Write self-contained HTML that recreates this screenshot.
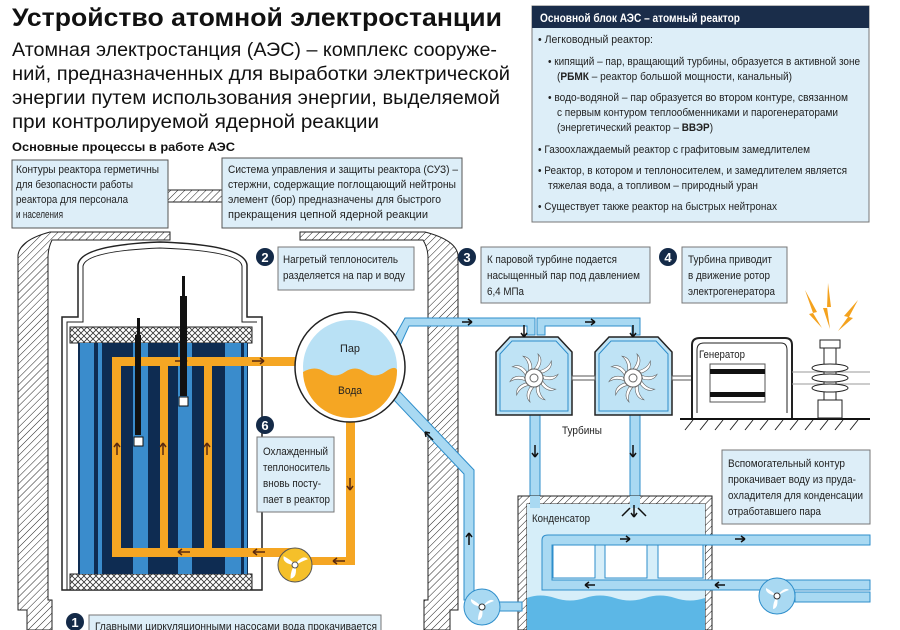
<!DOCTYPE html>
<html><head><meta charset="utf-8"><style>
html,body{margin:0;padding:0;background:#fff}
svg{display:block}
text{font-family:"Liberation Sans","Noto Sans CJK SC",sans-serif}
</style></head><body>
<svg width="900" height="630" viewBox="0 0 900 630" xmlns="http://www.w3.org/2000/svg">
<defs>
<pattern id="h" width="5" height="5" patternUnits="userSpaceOnUse" patternTransform="rotate(45)"><rect width="5" height="5" fill="#fff"/><line x1="0" y1="0" x2="0" y2="5" stroke="#222" stroke-width="1"/></pattern>
<pattern id="x" width="6" height="6" patternUnits="userSpaceOnUse"><rect width="6" height="6" fill="#fff"/><path d="M0 0L6 6M6 0L0 6" stroke="#333" stroke-width="0.8"/></pattern>
<path id="bl" d="M0 -9Q6 -16 4 -24Q10 -18 4 -9Z" fill="#fff" stroke="#666" stroke-width="0.6"/>
<g id="fan"><use href="#bl"/><use href="#bl" transform="rotate(36)"/><use href="#bl" transform="rotate(72)"/><use href="#bl" transform="rotate(108)"/><use href="#bl" transform="rotate(144)"/><use href="#bl" transform="rotate(180)"/><use href="#bl" transform="rotate(216)"/><use href="#bl" transform="rotate(252)"/><use href="#bl" transform="rotate(288)"/><use href="#bl" transform="rotate(324)"/><circle r="9" fill="#fff" stroke="#666"/><circle r="4" fill="#fff" stroke="#666"/></g>
</defs>

<!-- Title -->
<text x="12" y="26" font-size="25" font-weight="bold" fill="#111" textLength="490" lengthAdjust="spacingAndGlyphs">Устройство атомной электростанции</text>
<g font-size="19.5" fill="#111">
<text x="12" y="56" textLength="485" lengthAdjust="spacingAndGlyphs">Атомная электростанция (АЭС) – комплекс сооруже-</text>
<text x="12" y="80" textLength="498" lengthAdjust="spacingAndGlyphs">ний, предназначенных для выработки электрической</text>
<text x="12" y="104" textLength="488" lengthAdjust="spacingAndGlyphs">энергии путем использования энергии, выделяемой</text>
<text x="12" y="128" textLength="367" lengthAdjust="spacingAndGlyphs">при контролируемой ядерной реакции</text>
</g>
<text x="12" y="151" font-size="12" font-weight="bold" fill="#111" textLength="223" lengthAdjust="spacingAndGlyphs">Основные процессы в работе АЭС</text>

<!-- containment outer walls -->
<path d="M27 630V610H18V255Q20 240 50 232H170V240H52Q48 248 48 258V600H52V630Z" fill="url(#h)" stroke="#222"/>
<path d="M450 630V610H458V255Q456 240 425 232H300V240H423Q428 248 428 258V600H424V630Z" fill="url(#h)" stroke="#222"/>
<rect x="166" y="190" width="60" height="12" fill="url(#h)" stroke="#222"/>

<!-- Box 1 -->
<rect x="12" y="160" width="156" height="68" fill="#ddeef8" stroke="#555"/>
<g font-size="11" fill="#222" lengthAdjust="spacingAndGlyphs">
<text x="16" y="173" textLength="143" lengthAdjust="spacingAndGlyphs">Контуры реактора герметичны</text>
<text x="16" y="188" textLength="117" lengthAdjust="spacingAndGlyphs">для безопасности работы</text>
<text x="16" y="203" textLength="112" lengthAdjust="spacingAndGlyphs">реактора для персонала</text>
<text x="16" y="218" textLength="47" lengthAdjust="spacingAndGlyphs">и населения</text>
</g>
<!-- Box 2 -->
<rect x="222" y="158" width="240" height="70" fill="#ddeef8" stroke="#555"/>
<g font-size="11" fill="#222">
<text x="228" y="173" textLength="230" lengthAdjust="spacingAndGlyphs">Система управления и защиты реактора (СУЗ) –</text>
<text x="228" y="188" textLength="228" lengthAdjust="spacingAndGlyphs">стержни, содержащие поглощающий нейтроны</text>
<text x="228" y="203" textLength="213" lengthAdjust="spacingAndGlyphs">элемент (бор) предназначены для быстрого</text>
<text x="228" y="218" textLength="200" lengthAdjust="spacingAndGlyphs">прекращения цепной ядерной реакции</text>
</g>

<!-- right panel -->
<rect x="532" y="6" width="337" height="216" fill="#ddeef8" stroke="#777"/>
<rect x="532" y="6" width="337" height="22" fill="#1a2d4a"/>
<text x="540" y="22" font-size="11.5" font-weight="bold" fill="#fff" textLength="200" lengthAdjust="spacingAndGlyphs">Основной блок АЭС – атомный реактор</text>
<g font-size="11" fill="#222">
<text x="538" y="43" textLength="115" lengthAdjust="spacingAndGlyphs">• Легководный реактор:</text>
<text x="548" y="65" textLength="312" lengthAdjust="spacingAndGlyphs">• кипящий – пар, вращающий турбины, образуется в активной зоне</text>
<text x="557" y="80" textLength="235" lengthAdjust="spacingAndGlyphs">(<tspan font-weight="bold">РБМК</tspan> – реактор большой мощности, канальный)</text>
<text x="548" y="101" textLength="300" lengthAdjust="spacingAndGlyphs">• водо-водяной – пар образуется во втором контуре, связанном</text>
<text x="557" y="116" textLength="281" lengthAdjust="spacingAndGlyphs">с первым контуром теплообменниками и парогенераторами</text>
<text x="557" y="131" textLength="156" lengthAdjust="spacingAndGlyphs">(энергетический реактор – <tspan font-weight="bold">ВВЭР</tspan>)</text>
<text x="538" y="153" textLength="272" lengthAdjust="spacingAndGlyphs">• Газоохлаждаемый реактор с графитовым замедлителем</text>
<text x="538" y="174" textLength="309" lengthAdjust="spacingAndGlyphs">• Реактор, в котором и теплоносителем, и замедлителем является</text>
<text x="548" y="189" textLength="210" lengthAdjust="spacingAndGlyphs">тяжелая вода, а топливом – природный уран</text>
<text x="538" y="210" textLength="239" lengthAdjust="spacingAndGlyphs">• Существует также реактор на быстрых нейтронах</text>
</g>

<!-- reactor vessel -->
<path d="M62 590V317H78V265Q80 245 160 242Q245 245 247 265V317H262V590Z" fill="#fff" stroke="#222" stroke-width="1.5"/>
<path d="M67 590V322H83V266Q86 251 160 248Q240 251 242 266V322H257" fill="none" stroke="#222" stroke-width="1"/>
<rect x="70" y="327" width="182" height="16" fill="url(#x)" stroke="#222"/>
<rect x="70" y="574" width="182" height="16" fill="url(#x)" stroke="#222"/>
<rect x="78" y="343" width="170" height="231" fill="#0e2c52"/>
<g fill="#3a8ccc">
<rect x="80" y="343" width="14" height="231"/><rect x="98" y="343" width="4" height="231"/>
<rect x="133" y="343" width="15" height="231"/><rect x="178" y="343" width="14" height="231"/>
<rect x="225" y="343" width="16" height="231"/><rect x="244" y="343" width="3" height="231"/>
</g>
<!-- orange loop -->
<g fill="#f5a623">
<rect x="112" y="357" width="190" height="9"/>
<rect x="112" y="357" width="9" height="200"/>
<rect x="160" y="357" width="8" height="200"/>
<rect x="204" y="357" width="8" height="200"/>
<rect x="112" y="548" width="180" height="9"/>
<rect x="346" y="420" width="9" height="145"/>
<rect x="300" y="557" width="55" height="8"/>
</g>
<g fill="none" stroke="#5a2a10" stroke-width="1.5">
<path d="M252 361h12m0 0l-4-3m4 3l-4 3"/>
<path d="M175 361h12m0 0l-4-3m4 3l-4 3"/>
<path d="M117 455v-12m0 0l-3 4m3-4l3 4"/>
<path d="M163 455v-12m0 0l-3 4m3-4l3 4"/>
<path d="M207 455v-12m0 0l-3 4m3-4l3 4"/>
<path d="M350 478v12m0 0l-3-4m3 4l3-4"/>
<path d="M190 552h-12m0 0l4-3m-4 3l4 3"/>
<path d="M265 552h-12m0 0l4-3m-4 3l4 3"/>
<path d="M345 561h-12m0 0l4-3m-4 3l4 3"/>
</g>
<!-- rods -->
<rect x="137" y="318" width="3" height="30" fill="#111"/><rect x="135" y="335" width="6" height="100" fill="#111"/><rect x="134" y="437" width="9" height="9" fill="#fff" stroke="#111"/>
<rect x="182" y="276" width="3" height="45" fill="#111"/><rect x="180" y="296" width="7" height="100" fill="#111"/><rect x="179" y="397" width="9" height="9" fill="#fff" stroke="#111"/>
<!-- orange pump -->
<circle cx="295" cy="565" r="17" fill="#f5c02a" stroke="#555"/>
<path d="M295 565q8-10 12-6q-6 2-12 6M295 565q2 12-4 13q0-7 4-13M295 565q-12-2-11-8q6 3 11 8" fill="#fff" stroke="#fff"/>
<circle cx="295" cy="565" r="3" fill="#fff" stroke="#555"/>

<!-- steam/feed pipes -->
<g fill="#a9d9f2" stroke="#2e8ecb" stroke-width="1">
<path d="M390 345L405 318H535V335H527V326H409L398 350Z"/>
<path d="M537 335V318H640V335H632V326H545V335Z"/>
<path d="M392 398L400 392L474 470V600H464V474Z"/>
<rect x="530" y="415" width="10" height="85"/>
<rect x="630" y="415" width="10" height="85"/>
</g>
<!-- drum -->
<circle cx="350" cy="367" r="55" fill="#fff" stroke="#222" stroke-width="1.5"/>
<circle cx="350" cy="367" r="47" fill="#b9e1f5"/>
<path d="M303 372Q315 365 325 372T345 372T365 372T385 372T397 370A47 47 0 0 1 303 372Z" fill="#f5a623"/>
<text x="340" y="352" font-size="11" fill="#222" textLength="20" lengthAdjust="spacingAndGlyphs">Пар</text>
<text x="338" y="394" font-size="11" fill="#222" textLength="24" lengthAdjust="spacingAndGlyphs">Вода</text>

<!-- turbines -->
<g fill="#bfe3f5" stroke="#222" stroke-width="1.5">
<path d="M496 415V352L510 337H558L572 352V415Z"/>
<path d="M595 415V352L609 337H658L672 352V415Z"/>
</g>
<g fill="none" stroke="#2e8ecb" stroke-width="1"><path d="M500 411V354L512 341H556L568 354V411Z"/><path d="M599 411V354L611 341H656L668 354V411Z"/></g>
<rect x="572" y="376" width="23" height="4" fill="#fff" stroke="#555"/>
<rect x="672" y="376" width="20" height="4" fill="#fff" stroke="#555"/>
<use href="#fan" transform="translate(534,378)"/>
<use href="#fan" transform="translate(633,378)"/>
<text x="562" y="434" font-size="11" fill="#222" textLength="40" lengthAdjust="spacingAndGlyphs">Турбины</text>
<g stroke="#111" stroke-width="1.5" fill="none">
<path d="M462 322h10m0 0l-4-3m4 3l-4 3"/>
<path d="M585 322h10m0 0l-4-3m4 3l-4 3"/>
<path d="M524 325v12m0 0l-3-4m3 4l3-4"/>
<path d="M633 325v12m0 0l-3-4m3 4l3-4"/>
<path d="M535 445v12m0 0l-3-4m3 4l3-4"/>
<path d="M633 445v12m0 0l-3-4m3 4l3-4"/>
<path d="M469 545v-12m0 0l-3 4m3-4l3 4"/>
<path d="M433 440l-8-8m0 0l1 5m-1-5l5 1"/>
</g>

<!-- generator -->
<path d="M692 418V345Q692 338 700 338H785Q792 338 792 345V418" fill="#fff" stroke="#222" stroke-width="2"/>
<path d="M697 413V350Q697 343 704 343H781Q787 343 787 350V413" fill="none" stroke="#222"/>
<text x="699" y="358" font-size="11" fill="#222" textLength="46" lengthAdjust="spacingAndGlyphs">Генератор</text>
<rect x="710" y="364" width="55" height="38" fill="#fff" stroke="#555"/>
<rect x="710" y="369" width="55" height="5" fill="#111"/><rect x="710" y="392" width="55" height="5" fill="#111"/>
<line x1="680" y1="419" x2="870" y2="419" stroke="#111" stroke-width="2"/>
<g stroke="#222"><path d="M685 430l8-10M700 430l8-10M715 430l8-10M730 430l8-10M745 430l8-10M760 430l8-10M775 430l8-10M790 430l8-10M805 430l8-10M820 430l8-10M835 430l8-10M850 430l8-10"/></g>
<g stroke="#999" stroke-width="1"><path d="M792 372H870M792 384H870"/></g>
<!-- insulator -->
<g fill="#fff" stroke="#222">
<rect x="818" y="400" width="24" height="18"/>
<rect x="824" y="345" width="12" height="55"/>
<ellipse cx="830" cy="368" rx="18" ry="4"/><ellipse cx="830" cy="378" rx="18" ry="4"/><ellipse cx="830" cy="388" rx="18" ry="4"/>
<rect x="820" y="340" width="20" height="8"/>
</g>
<g fill="#f4a21e"><path d="M805 290l12 22-4 1 9 15-13-14 4-1Z"/><path d="M828 283l3 24-4 0 3 22-7-21h4Z"/><path d="M858 300l-14 16 4 1-10 14 15-13-4-1Z"/></g>

<!-- condenser -->
<path d="M518 630V496H712V630H705V504H527V630Z" fill="url(#h)" stroke="#222"/>
<rect x="527" y="504" width="178" height="126" fill="#d6eef9"/>
<path d="M527 598Q540 593 555 598T585 598T615 598T645 598T675 598T705 598V630H527Z" fill="#5cb7e6"/>
<rect x="530" y="496" width="10" height="12" fill="#a9d9f2"/><rect x="630" y="496" width="10" height="12" fill="#a9d9f2"/>
<text x="532" y="522" font-size="11" fill="#222" textLength="58" lengthAdjust="spacingAndGlyphs">Конденсатор</text>
<g fill="#a9d9f2" stroke="#2e8ecb">
<path d="M542 590V540Q542 535 548 535H870V545H552V580H870V590Z"/>
</g>
<g fill="#fff" stroke="#2e8ecb"><rect x="553" y="545" width="42" height="33"/><rect x="605" y="545" width="42" height="33"/><rect x="658" y="545" width="45" height="33"/></g>
<g stroke="#111" stroke-width="1.5" fill="none">
<path d="M620 539h10m0 0l-4-3m4 3l-4 3"/><path d="M735 539h10m0 0l-4-3m4 3l-4 3"/>
<path d="M595 585h-10m0 0l4-3m-4 3l4 3"/><path d="M725 585h-10m0 0l4-3m-4 3l4 3"/>
<path d="M860 597h-10m0 0l4-3m-4 3l4 3"/><path d="M515 607h-10m0 0l4-3m-4 3l4 3"/>
<path d="M634 505v12m0 0l-3-4m3 4l3-4M630 508l-8 8M638 508l8 8"/>
</g>
<rect x="795" y="592" width="75" height="10" fill="#a9d9f2" stroke="#2e8ecb"/>
<rect x="495" y="602" width="27" height="9" fill="#a9d9f2" stroke="#2e8ecb"/>
<circle cx="777" cy="596" r="18" fill="#a9d9f2" stroke="#2e8ecb"/>
<circle cx="482" cy="607" r="18" fill="#a9d9f2" stroke="#2e8ecb"/>
<g fill="#fff"><path d="M777 596q8-10 12-6q-6 2-12 6M777 596q2 12-4 13q0-7 4-13M777 596q-12-2-11-8q6 3 11 8"/><path d="M482 607q8-10 12-6q-6 2-12 6M482 607q2 12-4 13q0-7 4-13M482 607q-12-2-11-8q6 3 11 8"/></g>
<circle cx="777" cy="596" r="3" fill="#fff" stroke="#333"/><circle cx="482" cy="607" r="3" fill="#fff" stroke="#333"/>

<!-- text boxes -->
<rect x="278" y="247" width="136" height="43" fill="#ddeef8" stroke="#777"/>
<g font-size="11" fill="#222"><text x="283" y="263" textLength="115" lengthAdjust="spacingAndGlyphs">Нагретый теплоноситель</text><text x="283" y="279" textLength="122" lengthAdjust="spacingAndGlyphs">разделяется на пар и воду</text></g>
<rect x="257" y="437" width="77" height="75" fill="#ddeef8" stroke="#777"/>
<g font-size="11" fill="#222"><text x="263" y="455" textLength="65" lengthAdjust="spacingAndGlyphs">Охлажденный</text><text x="263" y="471" textLength="67" lengthAdjust="spacingAndGlyphs">теплоноситель</text><text x="263" y="487" textLength="58" lengthAdjust="spacingAndGlyphs">вновь посту-</text><text x="263" y="503" textLength="67" lengthAdjust="spacingAndGlyphs">пает в реактор</text></g>
<rect x="481" y="247" width="169" height="56" fill="#ddeef8" stroke="#777"/>
<g font-size="11" fill="#222"><text x="487" y="263" textLength="130" lengthAdjust="spacingAndGlyphs">К паровой турбине подается</text><text x="487" y="279" textLength="153" lengthAdjust="spacingAndGlyphs">насыщенный пар под давлением</text><text x="487" y="295" textLength="37" lengthAdjust="spacingAndGlyphs">6,4 МПа</text></g>
<rect x="682" y="247" width="105" height="56" fill="#ddeef8" stroke="#777"/>
<g font-size="11" fill="#222"><text x="688" y="263" textLength="84" lengthAdjust="spacingAndGlyphs">Турбина приводит</text><text x="688" y="279" textLength="82" lengthAdjust="spacingAndGlyphs">в движение ротор</text><text x="688" y="295" textLength="87" lengthAdjust="spacingAndGlyphs">электрогенератора</text></g>
<rect x="722" y="450" width="148" height="74" fill="#ddeef8" stroke="#777"/>
<g font-size="11" fill="#222"><text x="728" y="467" textLength="117" lengthAdjust="spacingAndGlyphs">Вспомогательный контур</text><text x="728" y="483" textLength="128" lengthAdjust="spacingAndGlyphs">прокачивает воду из пруда-</text><text x="728" y="499" textLength="135" lengthAdjust="spacingAndGlyphs">охладителя для конденсации</text><text x="728" y="515" textLength="93" lengthAdjust="spacingAndGlyphs">отработавшего пара</text></g>
<rect x="89" y="615" width="292" height="20" fill="#ddeef8" stroke="#777"/>
<text x="95" y="630" font-size="11" fill="#222" textLength="282" lengthAdjust="spacingAndGlyphs">Главными циркуляционными насосами вода прокачивается</text>

<!-- badges -->
<g font-size="13" font-weight="bold" fill="#fff" text-anchor="middle">
<circle cx="265" cy="257" r="9" fill="#142a48"/><text x="265" y="262">2</text>
<circle cx="265" cy="425" r="9" fill="#142a48"/><text x="265" y="430">6</text>
<circle cx="467" cy="257" r="9" fill="#142a48"/><text x="467" y="262">3</text>
<circle cx="668" cy="257" r="9" fill="#142a48"/><text x="668" y="262">4</text>
<circle cx="75" cy="622" r="9" fill="#142a48"/><text x="75" y="627">1</text>
</g>
</svg>
</body></html>
